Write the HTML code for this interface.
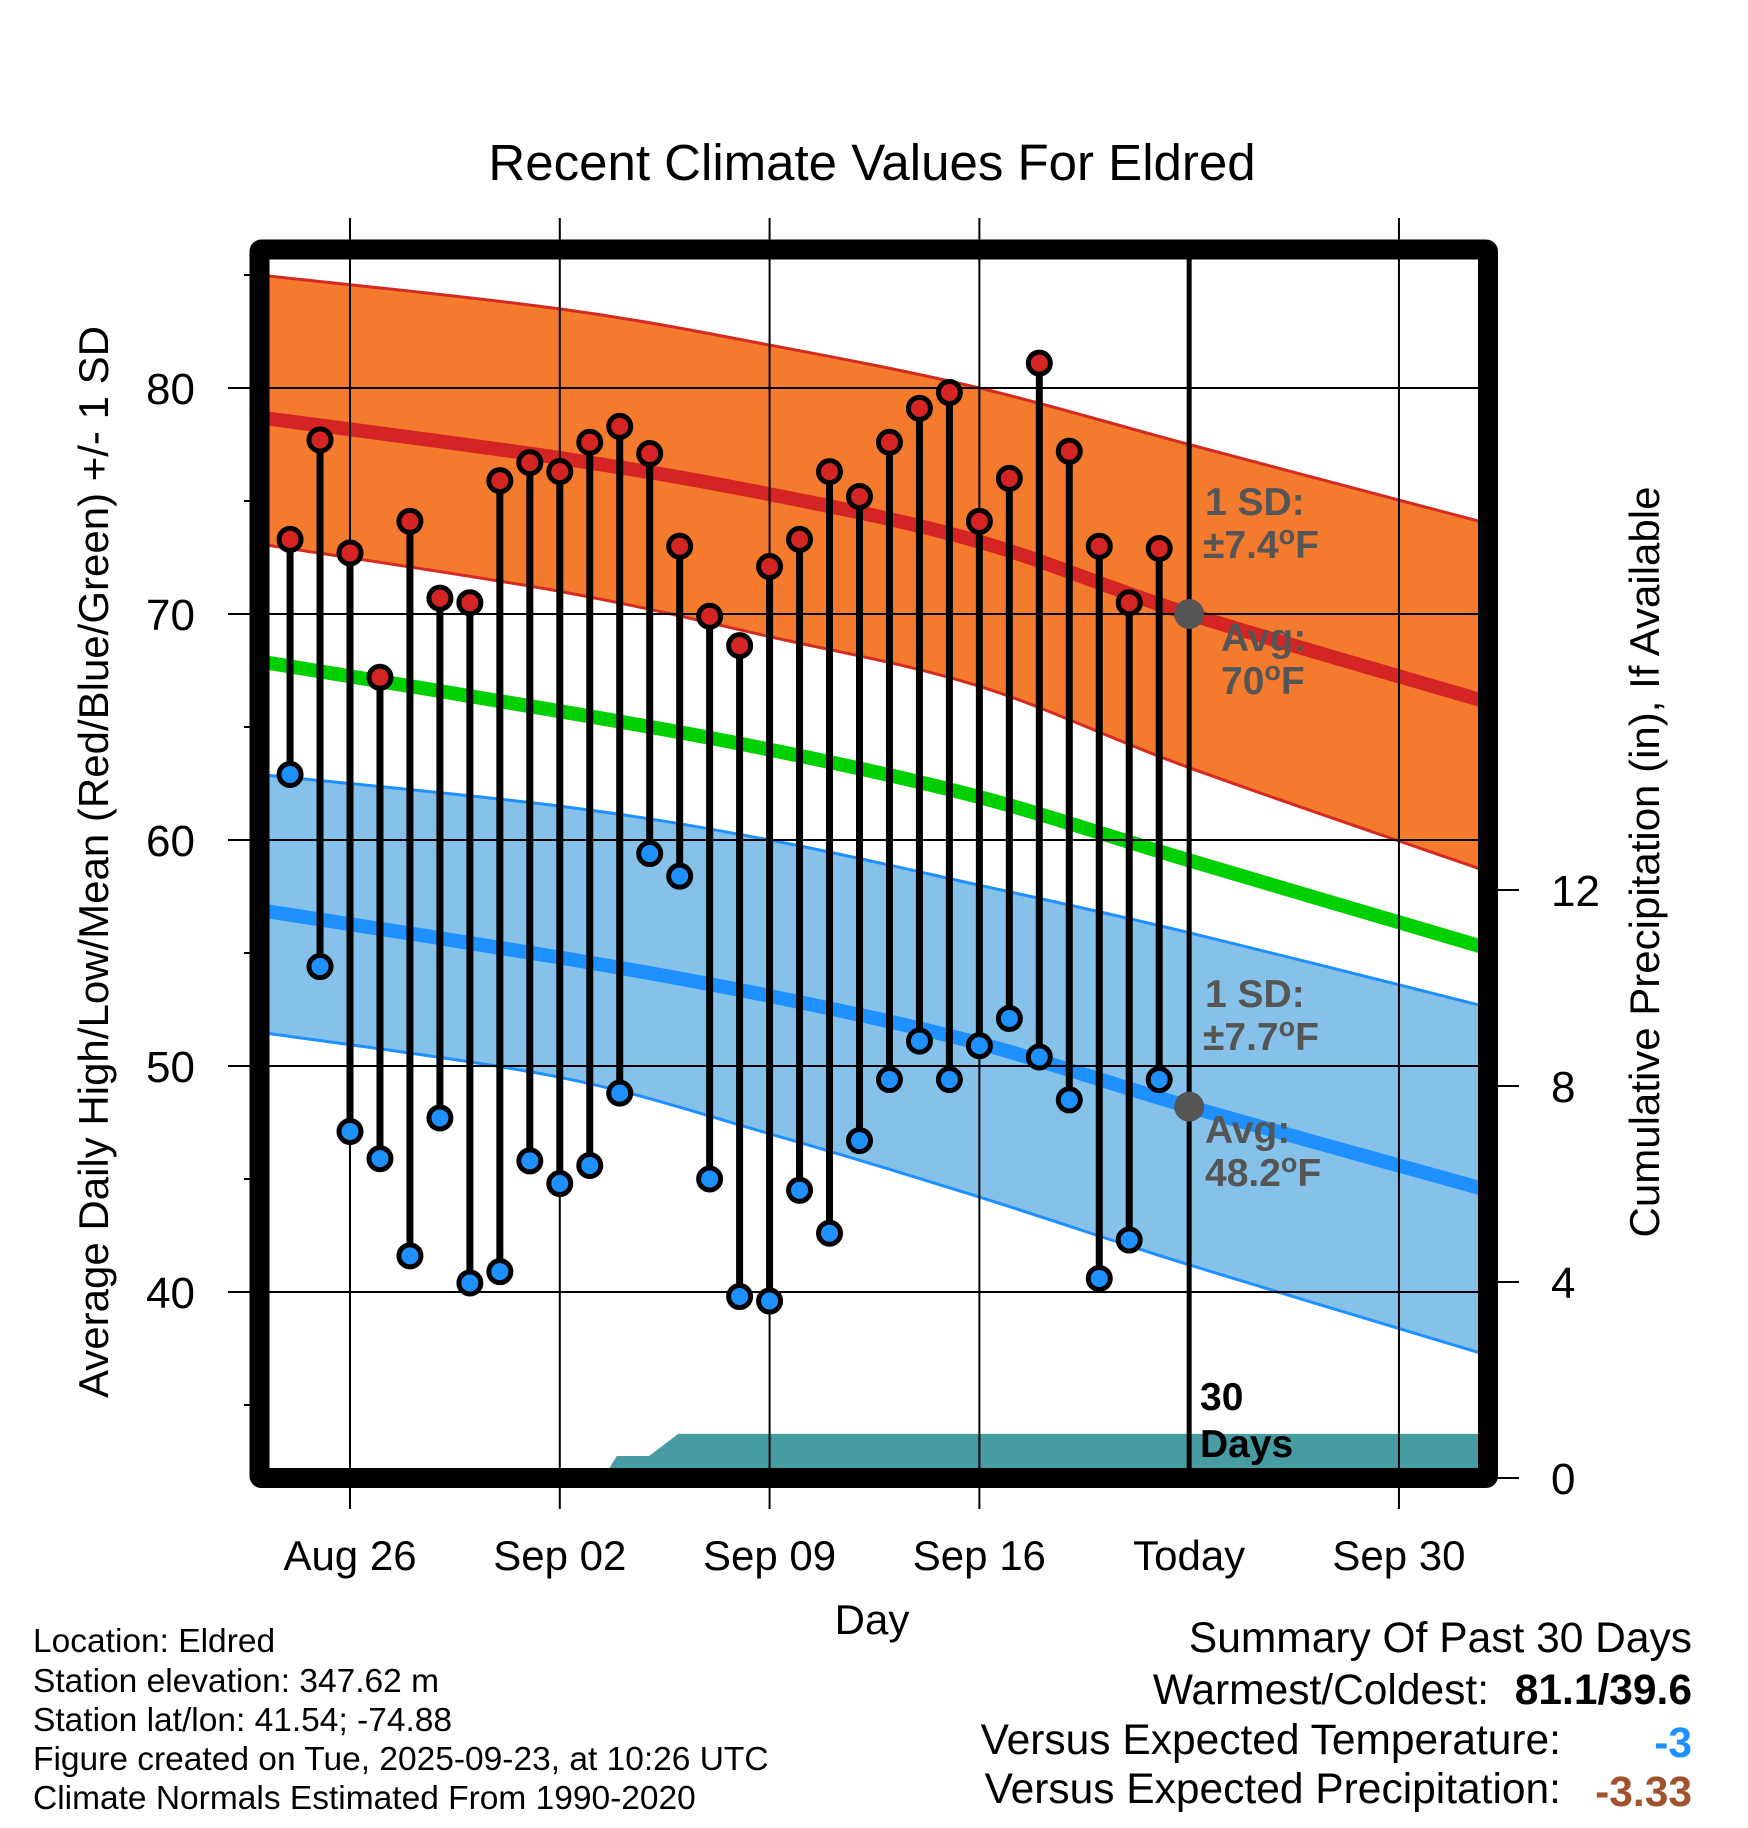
<!DOCTYPE html>
<html><head><meta charset="utf-8"><style>
html,body{margin:0;padding:0;background:#fff}
svg{display:block;font-family:"Liberation Sans",sans-serif}
</style></head><body>
<svg id="chart" width="1748" height="1828" viewBox="0 0 1748 1828" xmlns="http://www.w3.org/2000/svg">
<g id="bg"></g>
</svg>
<script>
// ---- data ----
const dayLabels = ["Aug 26","Sep 02","Sep 09","Sep 16","Today","Sep 30"];
const dayTicks = [0,7,14,21,28,35];
const tempTicks = [40,50,60,70,80];
const precipTicks = [0,4,8,12];
// observed days, offset from Aug 26
const obsDays = [-2,-1,0,1,2,3,4,5,6,7,8,9,10,11,12,13,14,15,16,17,18,19,20,21,22,23,24,25,26,27];
const highs = [73.3,77.7,72.7,67.2,74.1,70.7,70.5,75.9,76.7,76.3,77.6,78.3,77.1,73.0,69.9,68.6,72.1,73.3,76.3,75.2,77.6,79.1,79.8,74.1,76.0,81.1,77.2,73.0,70.5,72.9];
const lows  = [62.9,54.4,47.1,45.9,41.6,47.7,40.4,40.9,45.8,44.8,45.6,48.8,59.4,58.4,45.0,39.8,39.6,44.5,42.6,46.7,49.4,51.1,49.4,50.9,52.1,50.4,48.5,40.6,42.3,49.4];
// normals
const normDays = [-3.02,7,14,21,28,37.97];
const highAvg  = [78.7,76.9,75.3,73.2,70.0,66.1];
const highUp   = [85.0,83.5,81.9,80.0,77.5,74.0];
const highLo   = [73.1,71.0,69.0,66.8,63.2,58.6];
const meanAvg  = [67.9,65.7,64.0,61.9,59.1,55.2];
const lowAvg   = [56.9,54.8,53.1,51.0,48.2,44.5];
const lowUp    = [62.9,61.5,60.0,58.0,55.9,52.6];
const lowLo    = [51.5,49.5,47.0,44.2,41.2,37.2];
// cumulative precipitation
const precipDays = [8.45,8.9,9.98,10.95,37.97];
const precipVals = [0,0.45,0.45,0.9,0.9];

// ---- axes ----
const L=259.5,R=1488,T=249.5,B=1478;
const x = d => 350 + d*29.97;
const y = t => 388 + (80-t)*22.6;
const yp = p => 1478 - p*49;

const NS="http://www.w3.org/2000/svg";
const svg=document.getElementById('chart');
function el(tag,attrs,parent){const e=document.createElementNS(NS,tag);for(const k in attrs)e.setAttribute(k,attrs[k]);(parent||svg).appendChild(e);return e;}
function smoothPath(xs,ys){
  let pts=xs.map((v,i)=>[x(v),y(ys[i])]);
  let d="M"+pts[0][0]+","+pts[0][1];
  for(let i=0;i<pts.length-1;i++){
    const p0=pts[Math.max(0,i-1)],p1=pts[i],p2=pts[i+1],p3=pts[Math.min(pts.length-1,i+2)];
    const c1=[p1[0]+(p2[0]-p0[0])/6,p1[1]+(p2[1]-p0[1])/6];
    const c2=[p2[0]-(p3[0]-p1[0])/6,p2[1]-(p3[1]-p1[1])/6];
    d+=" C"+c1[0]+","+c1[1]+" "+c2[0]+","+c2[1]+" "+p2[0]+","+p2[1];
  }
  return d;
}
function bandPath(up,lo){
  const a=smoothPath(normDays,up);
  const rx=normDays.slice().reverse(), rl=lo.slice().reverse();
  const b=smoothPath(rx,rl).replace(/^M/,"L");
  return a+" "+b+" Z";
}

const clip=el('clipPath',{id:'plotclip'});
el('rect',{x:L,y:T,width:R-L,height:B-T},clip);
const g=el('g',{'clip-path':'url(#plotclip)'});

let e;
e=el('path',{d:bandPath(highUp,highLo),fill:'#f47a2d',stroke:'none'},g);

e=el('path',{d:smoothPath(normDays,highUp),fill:'none',stroke:'#d42a20','stroke-width':3},g);

e=el('path',{d:smoothPath(normDays,highLo),fill:'none',stroke:'#d42a20','stroke-width':3},g);

e=el('path',{d:bandPath(lowUp,lowLo),fill:'#85c1e9',stroke:'none'},g);

e=el('path',{d:smoothPath(normDays,lowUp),fill:'none',stroke:'#1e90ff','stroke-width':3},g);

e=el('path',{d:smoothPath(normDays,lowLo),fill:'none',stroke:'#1e90ff','stroke-width':3},g);


let pd="M"+x(precipDays[0])+","+yp(0);
precipDays.forEach((d,i)=>{pd+=" L"+x(d)+","+yp(precipVals[i]);});
pd+=" L"+x(precipDays[precipDays.length-1])+","+yp(0)+" Z";
e=el('path',{d:pd,fill:'#479ca3'},g);


tempTicks.forEach(t=>{el('line',{x1:L,x2:R,y1:y(t),y2:y(t),stroke:'#000','stroke-width':2});});
dayTicks.forEach((d,i)=>{
  const ln=el('line',{x1:x(d),x2:x(d),y1:218,y2:1509,stroke:'#000','stroke-width':i==4?5:2});
  if(i==4){ln.setAttribute('y1',T);ln.setAttribute('y2',B);}
  
});

e=el('path',{d:smoothPath(normDays,highAvg),fill:'none',stroke:'#d42424','stroke-width':14},g);

e=el('path',{d:smoothPath(normDays,meanAvg),fill:'none',stroke:'#00d000','stroke-width':14},g);

e=el('path',{d:smoothPath(normDays,lowAvg),fill:'none',stroke:'#1e90ff','stroke-width':14},g);


e=el('circle',{cx:x(28),cy:y(highAvg[4]),r:15,fill:'#555'});

e=el('circle',{cx:x(28),cy:y(lowAvg[4]),r:15,fill:'#555'});


obsDays.forEach((d,i)=>{
  const s=el('line',{x1:x(d),x2:x(d),y1:y(highs[i]),y2:y(lows[i]),stroke:'#000','stroke-width':7});
  
});
obsDays.forEach((d,i)=>{
  const h=el('circle',{cx:x(d),cy:y(highs[i]),r:11,fill:'#d42424',stroke:'#000','stroke-width':5});
  
  const l=el('circle',{cx:x(d),cy:y(lows[i]),r:11,fill:'#1e90ff',stroke:'#000','stroke-width':5});
  
});

e=el('rect',{x:L,y:T,width:R-L,height:B-T,fill:'none',stroke:'#000','stroke-width':20,rx:2,'stroke-linejoin':'round'});


for(let t=35;t<=85;t+=5){
  const major=t%10==0;
  el('line',{x1:major?228:244,x2:L,y1:y(t),y2:y(t),stroke:'#000','stroke-width':2});
}
tempTicks.forEach(t=>{
  const tx=el('text',{x:195,y:y(t)+16,'font-size':44,'text-anchor':'end'});tx.textContent=t;
  
});
precipTicks.forEach(p=>{
  el('line',{x1:R,x2:1519,y1:yp(p),y2:yp(p),stroke:'#000','stroke-width':2});
  const tx=el('text',{x:1551,y:yp(p)+16,'font-size':44});tx.textContent=p;
  
});
dayLabels.forEach((lab,i)=>{
  const tx=el('text',{x:x(dayTicks[i]),y:1570,'font-size':42,'text-anchor':'middle'});tx.textContent=lab;
  
});
</script>
<svg style="position:absolute;left:0;top:0" width="1748" height="1828">
<g font-family="Liberation Sans, sans-serif">
<text x="872" y="180" font-size="51" text-anchor="middle">Recent Climate Values For Eldred</text>
<text x="872" y="1634" font-size="42" text-anchor="middle">Day</text>
<text transform="translate(108,862) rotate(-90)" font-size="42" text-anchor="middle">Average Daily High/Low/Mean (Red/Blue/Green) +/- 1 SD</text>
<text transform="translate(1659,862) rotate(-90)" font-size="42" text-anchor="middle">Cumulative Precipitation (in), If Available</text>
<g font-weight="bold" font-size="39" fill="#555">
<text x="1205" y="515">1 SD:</text>
<text x="1203" y="558">±7.4<tspan dy="-14" font-size="27">o</tspan><tspan dy="14">F</tspan></text>
<text x="1221" y="651">Avg:</text>
<text x="1221" y="694">70<tspan dy="-14" font-size="27">o</tspan><tspan dy="14">F</tspan></text>
<text x="1205" y="1007">1 SD:</text>
<text x="1203" y="1050">±7.7<tspan dy="-14" font-size="27">o</tspan><tspan dy="14">F</tspan></text>
<text x="1205" y="1143">Avg:</text>
<text x="1205" y="1186">48.2<tspan dy="-14" font-size="27">o</tspan><tspan dy="14">F</tspan></text>
</g>
<g font-weight="bold" font-size="39" fill="#000">
<text x="1200" y="1410">30</text>
<text x="1200" y="1457">Days</text>
</g>
<g font-size="33.5">
<text x="33" y="1652">Location: Eldred</text>
<text x="33" y="1692">Station elevation: 347.62 m</text>
<text x="33" y="1731">Station lat/lon: 41.54; -74.88</text>
<text x="33" y="1770">Figure created on Tue, 2025-09-23, at 10:26 UTC</text>
<text x="33" y="1809">Climate Normals Estimated From 1990-2020</text>
</g>
<g font-size="42.5">
<text x="1692" y="1652" text-anchor="end">Summary Of Past 30 Days</text>
<text x="1489" y="1704" text-anchor="end">Warmest/Coldest:</text>
<text x="1692" y="1704" text-anchor="end" font-weight="bold">81.1/39.6</text>
<text x="1561" y="1754" text-anchor="end">Versus Expected Temperature:</text>
<text x="1692" y="1757" text-anchor="end" font-weight="bold" fill="#1e90ff">-3</text>
<text x="1561" y="1803" text-anchor="end">Versus Expected Precipitation:</text>
<text x="1692" y="1806" text-anchor="end" font-weight="bold" fill="#a0522d">-3.33</text>
</g>
</g>
</svg>
</body></html>
